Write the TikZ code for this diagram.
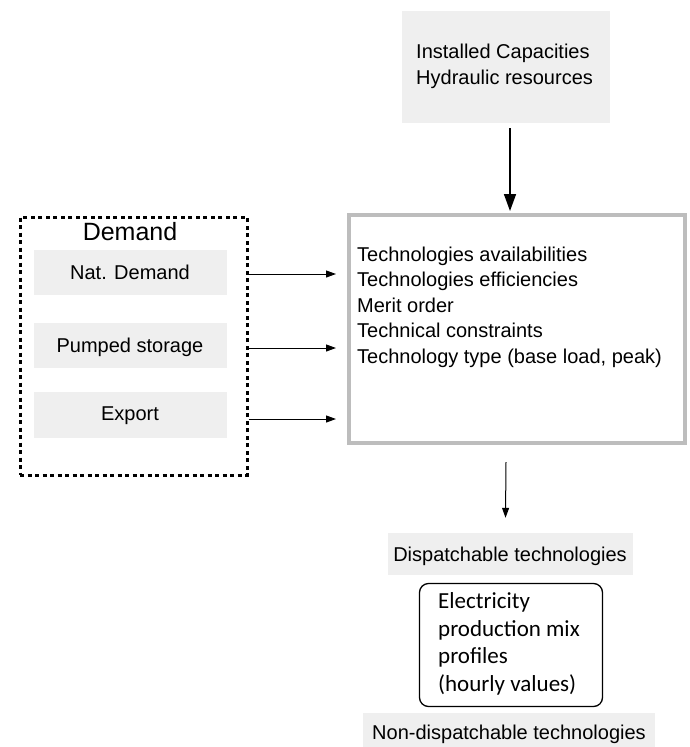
\documentclass[tikz,border=0pt]{standalone}
\usepackage{fontspec}
\setmainfont{Liberation Sans}
\newfontfamily\califont{Carlito}
\usetikzlibrary{arrows.meta}
\definecolor{bgfill}{HTML}{EFEFEF}
\definecolor{boxgray}{HTML}{BDBDBD}
\begin{document}
\begin{tikzpicture}[x=1pt,y=-1pt,
  graybox/.style={fill=bgfill, draw=none, inner sep=0pt},
  txt/.style={font=\fontsize{20}{25.5}\selectfont, inner sep=0pt, align=left, text height=14.5pt, text depth=4.2pt},
  blocktxt/.style={font=\fontsize{20}{25.5}\selectfont, inner sep=0pt, align=left},
  caltxt/.style={font=\califont\fontsize{23}{27.5}\selectfont, inner sep=0pt, align=left},
  bigarrow/.style={line width=1.6pt, -{Triangle[length=17pt,width=12pt]}},
  smallarrow/.style={line width=1pt, -{Triangle[length=10pt,width=7pt]}}
]
\useasboundingbox (0,0) rectangle (689,747);

% top input box
\node[graybox, minimum width=208pt, minimum height=112pt] (inst) at (506,67) {};
\node[blocktxt, anchor=west, font=\fontsize{20}{26}\selectfont] (insttxt) at (416,66) {Installed Capacities\\Hydraulic resources};

% main box
\node[draw=boxgray, line width=4pt, minimum width=336pt, minimum height=228pt, inner sep=0pt] (main) at (517,329) {};
\node[blocktxt, anchor=west] (maintext) at (357,307) {Technologies availabilities\\Technologies efficiencies\\Merit order\\Technical constraints\\Technology type (base load, peak)};

% demand group
\node[draw, line width=3pt, dash pattern=on 4pt off 3.5pt, minimum width=227pt, minimum height=258pt, inner sep=0pt] (dem) at (133.5,346) {};
\node[inner sep=0pt, font=\fontsize{25}{30}\selectfont] (demtitle) at (130,232) {Demand};
\node[graybox, minimum width=193pt, minimum height=45pt] (nat) at (130.5,272.5) {};
\node[txt] (nattxt) at (130,274) {Nat. Demand};
\node[graybox, minimum width=193pt, minimum height=45pt] (pump) at (130.5,345.5) {};
\node[txt] (pumptxt) at (130,347) {Pumped storage};
\node[graybox, minimum width=193pt, minimum height=46pt] (exp) at (130.5,415) {};
\node[txt] (exptxt) at (130,415) {Export};

% outputs
\node[graybox, minimum width=245pt, minimum height=42pt] (disp) at (510.5,554) {};
\node[txt] (disptxt) at (510,556) {Dispatchable technologies};
\node[draw, line width=1.3pt, rounded corners=9pt, minimum width=183pt, minimum height=123pt, inner sep=0pt] (elec) at (511,645) {};
\node[caltxt, anchor=west] (electxt) at (438,644) {Electricity\\production mix\\profiles\\(hourly values)};
\node[graybox, minimum width=292pt, minimum height=36pt] (nondisp) at (509,731) {};
\node[txt] (nondisptxt) at (509,734) {Non-dispatchable technologies};

% connectors
\draw[bigarrow] ([xshift=4pt,yshift=-5pt]inst.south) -- ([xshift=-7pt,yshift=2pt]main.north);
\coordinate (a1) at ([yshift=-1.5pt]nat.center);
\coordinate (a2) at ([yshift=-2.5pt]pump.center);
\coordinate (a3) at ([yshift=-4pt]exp.center);
\draw[smallarrow, shorten >=11pt] (a1 -| dem.east) -- (a1 -| main.west);
\draw[smallarrow, shorten >=11pt] (a2 -| dem.east) -- (a2 -| main.west);
\draw[smallarrow, shorten >=11pt] (a3 -| dem.east) -- (a3 -| main.west);
\draw[smallarrow] ([xshift=-11pt,yshift=-17pt]main.south) -- ([xshift=-5pt,yshift=15pt]disp.north);
\end{tikzpicture}
\end{document}
